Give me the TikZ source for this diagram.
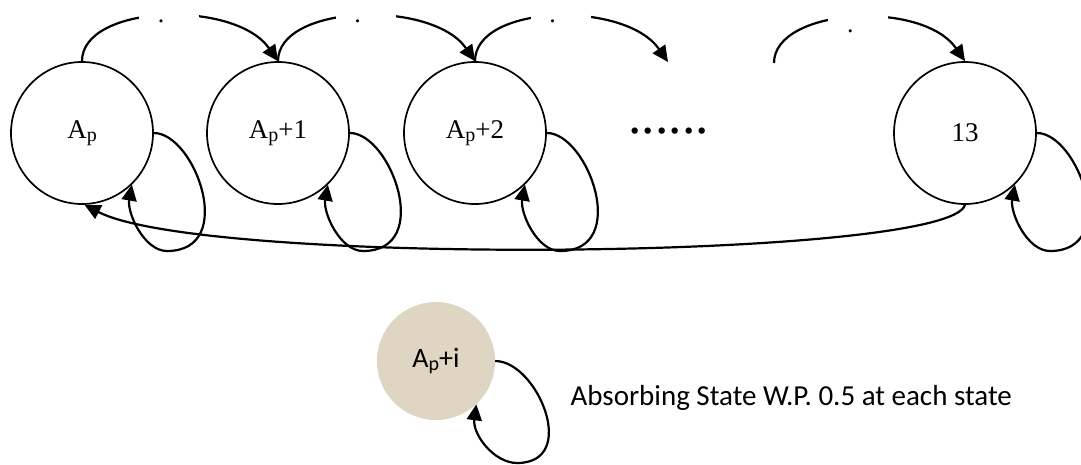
\documentclass[tikz,border=0pt]{standalone}
\usepackage{fontspec}
\setmainfont{Liberation Serif}
\newfontfamily\calib{Carlito}
\usetikzlibrary{arrows.meta,calc}
\definecolor{beige}{RGB}{222,213,194}
\begin{document}
\begin{tikzpicture}[x=1pt,y=-1pt,
  state/.style={circle,draw,line width=1.7pt,minimum size=142pt,inner sep=0pt,
    font=\fontsize{27}{27}\selectfont},
  absstate/.style={circle,fill=beige,minimum size=118pt,inner sep=0pt,
    font=\calib\fontsize{28}{28}\selectfont},
  arr/.style={line width=2.2pt,-{Triangle[length=16pt,width=15pt]}},
  gap/.style={fill=white,inner sep=0pt,minimum width=60pt,minimum height=24pt,
    text height=0pt,text depth=0pt,font=\fontsize{26}{26}\selectfont},
  dotsfont/.style={font=\fontsize{53.6}{54}\selectfont}
]
\path[use as bounding box,fill=white] (0,0) rectangle (1081,464);

\newcommand\sub[1]{\raisebox{-3pt}{\fontsize{20}{20}\selectfont #1}}

\node[state] (Ap)  at (82,133)  {A\sub{p}};
\node[state] (Ap1) at (278,133) {A\sub{p}+1};
\node[state] (Ap2) at (475,133) {A\sub{p}+2};
\node[state] (N13) at (965,133) {13};
\node[absstate] (Abs) at (436,361) {A\raisebox{-3pt}{\fontsize{20}{20}\selectfont p}+i};

\node[dotsfont,anchor=base west] (dots) at (625,133) {......};

\coordinate (e3) at (668,62);
\coordinate (s4) at (774,63);

% top arcs
\draw[arr] (Ap.north) .. controls +(0,-57) and +(-43,-62) ..
  node[gap,pos=0.52] (g1) {\makebox[0pt]{\hspace*{-16pt}\raisebox{-5.5pt}{.}}} (Ap1.north);
\draw[arr] (Ap1.north) .. controls +(0,-57) and +(-43,-62) ..
  node[gap,pos=0.52] (g2) {\makebox[0pt]{\hspace*{-16pt}\raisebox{-5.5pt}{.}}} (Ap2.north);
\draw[arr] (Ap2.north) .. controls +(0,-57) and +(-43,-62) ..
  node[gap,pos=0.52] (g3) {\makebox[0pt]{\hspace*{-16pt}\raisebox{-5.5pt}{.}}} (e3);
\draw[arr] (s4) .. controls +(0,-55) and +(-43,-62) ..
  node[gap,pos=0.52] (g4) {\makebox[0pt]{\hspace*{-16pt}\raisebox{-14pt}{.}}} (N13.north);

% self loops
\foreach \n in {Ap,Ap1,Ap2,N13}{
  \draw[arr] (\n.east) .. controls +(41,0) and +(71,0) .. ($(\n.center)+(85,118)$)
    .. controls +(-23,0) and +(-5,28) .. (\n.-46);
}
\draw[arr] (Abs.east) .. controls +(42,0) and +(63,0) .. ($(Abs.center)+(81,102)$)
  .. controls +(-23,0) and +(-4,30) .. (Abs.-47);

% long return arc
\draw[arr] (N13.south) .. controls +(-15,55) and +(120,62) .. (Ap.-88);

\node[anchor=base west,font=\calib\fontsize{29}{29}\selectfont] (txt) at (567,405)
  {Absorbing State W.P. 0.5 at each state};
\end{tikzpicture}
\end{document}
